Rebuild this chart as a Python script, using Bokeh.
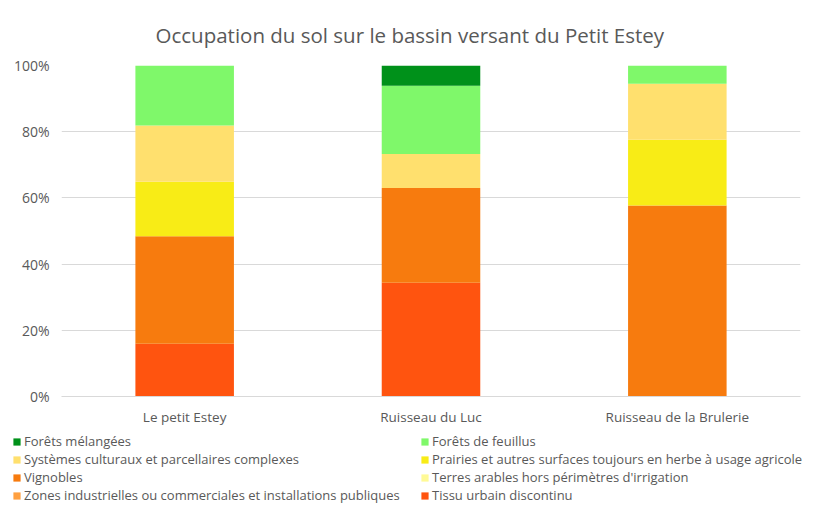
from bokeh.plotting import figure
from bokeh.layouts import column
from bokeh.models import (ColumnDataSource, FactorRange, Range1d, FixedTicker,
                          Legend, LegendItem, PrintfTickFormatter)
from bokeh.embed import file_html
from bokeh.resources import INLINE

# ---- data (percent of basin area) ----
categories = ["Le petit Estey", "Ruisseau du Luc", "Ruisseau de la Brulerie"]

tissu_urbain = [15.9, 34.4, 0.0]
zones_industrielles = [0.0, 0.0, 0.0]
vignobles = [32.5, 28.6, 57.7]
terres_arables = [0.0, 0.0, 0.0]
prairies = [16.5, 0.0, 19.9]
systemes_culturaux = [17.0, 10.3, 16.9]
forets_feuillus = [18.1, 20.6, 5.5]
forets_melangees = [0.0, 6.1, 0.0]

y_ticks = [0, 20, 40, 60, 80, 100]

# stacking order, bottom to top
series_keys = ["tissu", "zones", "vignobles", "terres", "prairies",
               "systemes", "feuillus", "melangees"]
series_labels = {
    "tissu": "Tissu urbain discontinu",
    "zones": "Zones industrielles ou commerciales et installations publiques",
    "vignobles": "Vignobles",
    "terres": "Terres arables hors périmètres d'irrigation",
    "prairies": "Prairies et autres surfaces toujours en herbe à usage agricole",
    "systemes": "Systèmes culturaux et parcellaires complexes",
    "feuillus": "Forêts de feuillus",
    "melangees": "Forêts mélangées",
}
series_colors = {
    "tissu": "#FF540F",
    "zones": "#FFA040",
    "vignobles": "#F77B0E",
    "terres": "#FFFA96",
    "prairies": "#F8EC16",
    "systemes": "#FFE06E",
    "feuillus": "#7FF86A",
    "melangees": "#00911A",
}

source = ColumnDataSource(data=dict(
    cat=categories,
    tissu=tissu_urbain,
    zones=zones_industrielles,
    vignobles=vignobles,
    terres=terres_arables,
    prairies=prairies,
    systemes=systemes_culturaux,
    feuillus=forets_feuillus,
    melangees=forets_melangees,
))

FONT = "Open Sans"
GREY = "#595959"

# ---------------- main chart ----------------
p = figure(
    x_range=FactorRange(factors=categories, range_padding=0),
    y_range=Range1d(0, 100),
    width=820, height=430,
    min_border_left=61, min_border_right=20,
    min_border_top=65, min_border_bottom=34,
    output_backend="svg", toolbar_location=None,
    title="Occupation du sol sur le bassin versant du Petit Estey",
)
p.frame_align = False
p.outline_line_color = None
p.background_fill_color = "white"
p.border_fill_color = "white"

p.title.text_font = FONT
p.title.text_font_size = "20.5px"
p.title.text_font_style = "normal"
p.title.text_color = GREY
p.title.align = "left"
p.title.offset = 94
p.title.standoff = 34

p.vbar_stack(
    series_keys, x="cat", width=0.4, source=source,
    color=[series_colors[k] for k in series_keys], line_color=None,
)

p.yaxis.ticker = FixedTicker(ticks=y_ticks)
p.yaxis.formatter = PrintfTickFormatter(format="%d%%")
p.yaxis.axis_line_color = None
p.yaxis.major_tick_line_color = None
p.yaxis.minor_tick_line_color = None
p.yaxis.major_tick_out = 0
p.yaxis.major_tick_in = 0
p.yaxis.major_label_standoff = 12
p.yaxis.major_label_text_font = FONT
p.yaxis.major_label_text_font_size = "14px"
p.yaxis.major_label_text_color = GREY

p.xaxis.axis_line_color = "#d9d9d9"
p.xaxis.major_tick_line_color = None
p.xaxis.minor_tick_line_color = None
p.xaxis.major_tick_out = 0
p.xaxis.major_tick_in = 0
p.xaxis.major_label_standoff = 11
p.xaxis.major_label_text_font = FONT
p.xaxis.major_label_text_font_size = "13.5px"
p.xaxis.major_label_text_color = GREY

p.xgrid.grid_line_color = None
p.ygrid.ticker = FixedTicker(ticks=y_ticks)
p.ygrid.grid_line_color = "#d9d9d9"
p.ygrid.grid_line_width = 1

# ---------------- legend strip ----------------
q = figure(
    width=820, height=78,
    x_range=FactorRange(factors=categories, range_padding=0),
    y_range=Range1d(0, 100),
    min_border=0, min_border_left=0, min_border_right=0,
    min_border_top=0, min_border_bottom=0,
    x_axis_location=None, y_axis_location=None,
    output_backend="svg", toolbar_location=None,
)
q.frame_align = False
q.outline_line_color = None
q.grid.grid_line_color = None
q.background_fill_color = "white"
q.border_fill_color = "white"

# hidden copies of the series: only used to draw the legend swatches
proxies = q.vbar_stack(
    series_keys, x="cat", width=0.4, source=source,
    color=[series_colors[k] for k in series_keys], line_color=None,
    visible=False,
)
pmap = dict(zip(series_keys, proxies))

col1 = ["melangees", "systemes", "vignobles", "zones"]
col2 = ["feuillus", "prairies", "terres", "tissu"]


def make_legend(keys, loc):
    return Legend(
        items=[LegendItem(label=series_labels[k], renderers=[pmap[k]]) for k in keys],
        location=loc, orientation="vertical",
        glyph_width=9, glyph_height=9, label_height=18, spacing=0,
        label_standoff=3, padding=0, margin=0,
        border_line_color=None, background_fill_alpha=0,
        inactive_fill_alpha=0,
        label_text_font=FONT, label_text_font_size="13px",
        label_text_color=GREY,
    )


q.add_layout(make_legend(col1, (12, 4)), "center")
q.add_layout(make_legend(col2, (420, 4)), "center")

layout = column(p, q, spacing=0)
open("out.html", "w").write(file_html(layout, INLINE))
